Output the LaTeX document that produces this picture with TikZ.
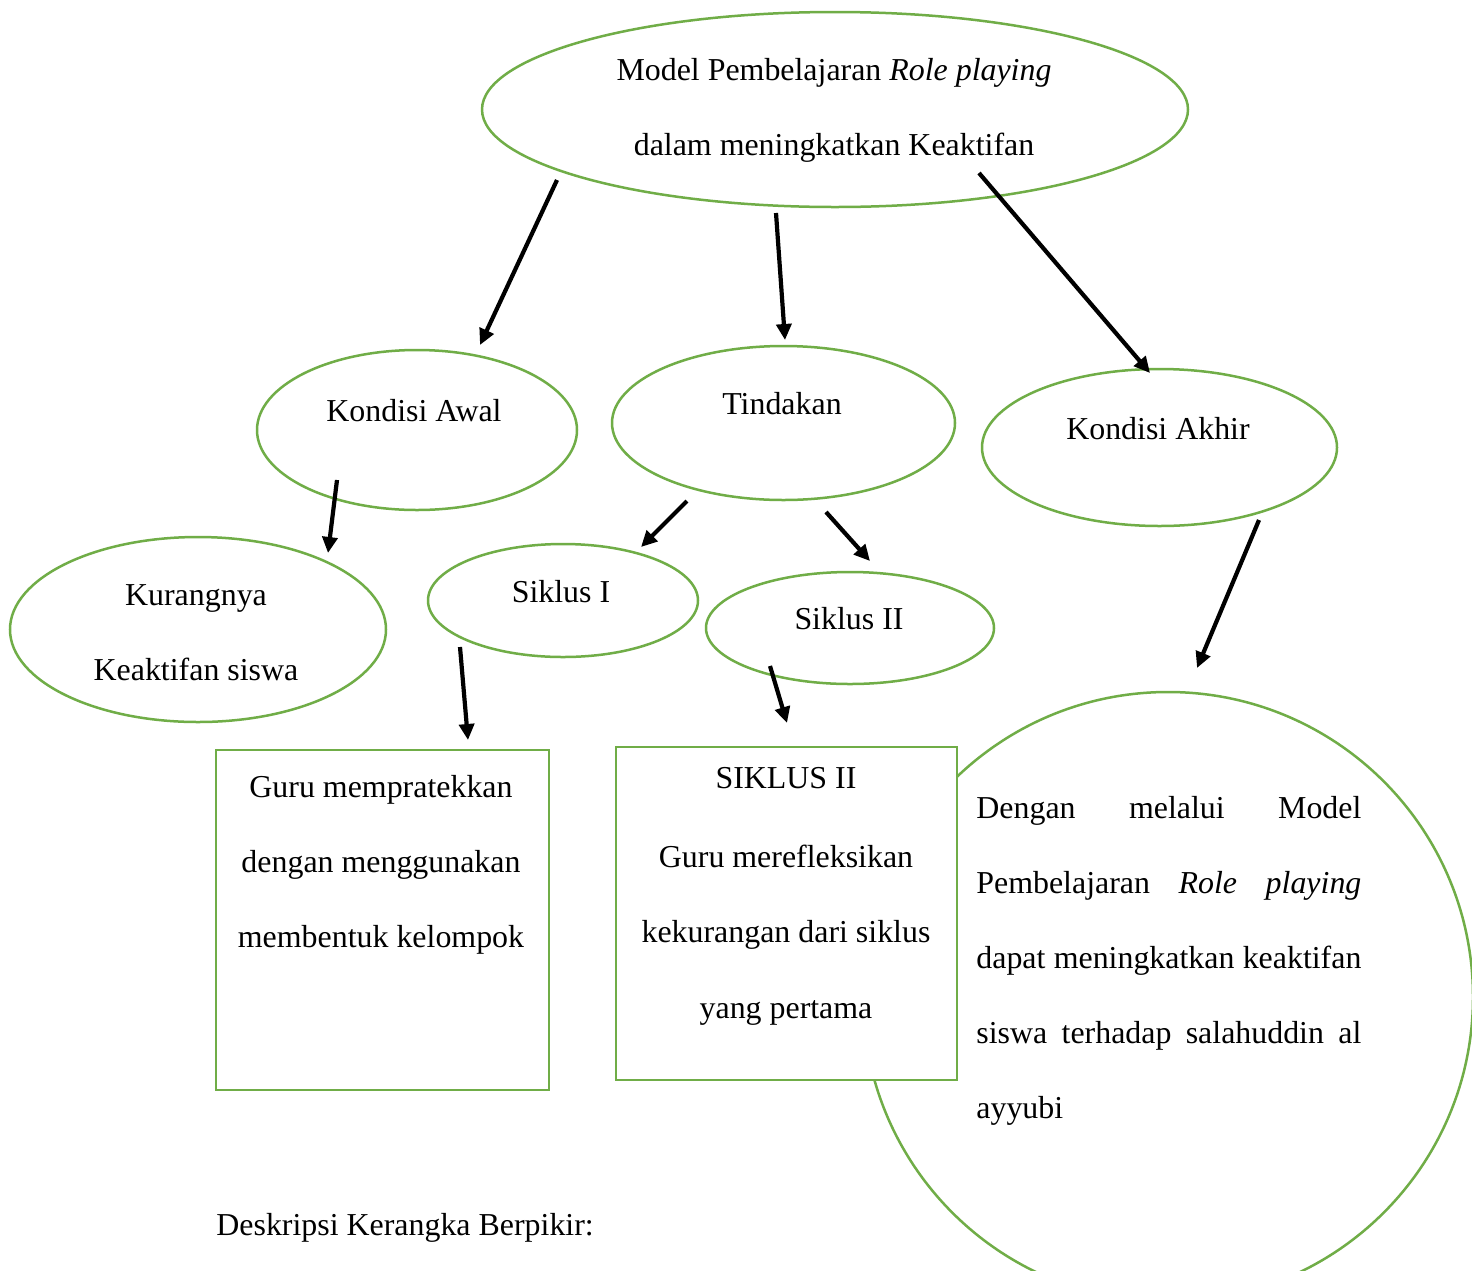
\documentclass[tikz,border=0pt]{standalone}
\usepackage{fontspec}
\setmainfont{Liberation Serif}
\usetikzlibrary{shapes.geometric,arrows.meta}
\definecolor{lgreen}{HTML}{70AD47}
\tikzset{
  oval/.style={ellipse,draw=lgreen,line width=1.25pt,fill=white,inner sep=0pt,outer sep=0pt},
  sqbox/.style={rectangle,draw=lgreen,line width=1.25pt,fill=white,inner sep=0pt,outer sep=0pt},
  lbl/.style={anchor=base,inner sep=0pt,font=\fontsize{15.95}{18}\selectfont},
  lblw/.style={anchor=base west,inner sep=0pt,font=\fontsize{15.95}{18}\selectfont},
  arr/.style={line width=2.1pt,-{Triangle[length=8pt,width=7.5pt]}}
}
\begin{document}
\begin{tikzpicture}[x=0.5pt,y=-0.5pt]
\clip (0,0) rectangle (1472,1270);
\fill[white] (0,0) rectangle (1472,1270);
% big circle first (behind box 2)
\node[oval,minimum width=305pt,minimum height=305pt] (akhirc) at (1168,997) {};
% ellipses
\node[oval,minimum width=353pt,minimum height=97.5pt] (top) at (835,109.5) {};
\node[oval,minimum width=160pt,minimum height=80pt] (awal) at (417,430) {};
\node[oval,minimum width=171.5pt,minimum height=77pt] (tind) at (783.5,423) {};
\node[oval,minimum width=177.5pt,minimum height=78.5pt] (akhir) at (1159.5,447.5) {};
\node[oval,minimum width=188pt,minimum height=92.5pt] (kurang) at (198,629.5) {};
\node[oval,minimum width=135pt,minimum height=56.5pt] (sik1) at (563,600.5) {};
\node[oval,minimum width=144pt,minimum height=56pt] (sik2) at (850,628) {};
% boxes
\node[sqbox,minimum width=166.5pt,minimum height=170pt] (box1) at (382.5,920) {};
\node[sqbox,minimum width=170.5pt,minimum height=166.5pt] (box2) at (786.5,913.5) {};
% labels
\node[lbl] (t1) at (834,80) {Model Pembelajaran \textit{Role playing}};
\node[lbl] (t2) at (834,155) {dalam meningkatkan Keaktifan};
\node[lbl] (t3) at (414,421) {Kondisi Awal};
\node[lbl] (t4) at (782,414) {Tindakan};
\node[lbl] (t5) at (1158,439) {Kondisi Akhir};
\node[lbl] (t6) at (196,605) {Kurangnya};
\node[lbl] (t7) at (196,680) {Keaktifan siswa};
\node[lbl] (t8) at (561,602) {Siklus I};
\node[lbl] (t9) at (849,629) {Siklus II};
\node[lbl] (b11) at (381,797) {Guru mempratekkan};
\node[lbl] (b12) at (381,872) {dengan menggunakan};
\node[lbl] (b13) at (381,947) {membentuk kelompok};
\node[lbl] (b21) at (786,788) {SIKLUS II};
\node[lbl] (b22) at (786,867) {Guru merefleksikan};
\node[lbl] (b23) at (786,942) {kekurangan dari siklus};
\node[lbl] (b24) at (786,1018) {yang pertama};
\node[lblw] (c1) at (976,818) {\makebox[192.5pt][s]{Dengan\hfill melalui\hfill Model}};
\node[lblw] (c2) at (976,893) {\makebox[192.5pt][s]{Pembelajaran\hfill \textit{Role}\hfill \textit{playing}}};
\node[lblw] (c3) at (976,968) {\makebox[192.5pt][s]{dapat\hfill meningkatkan\hfill keaktifan}};
\node[lblw] (c4) at (976,1043) {\makebox[192.5pt][s]{siswa\hfill terhadap\hfill salahuddin\hfill al}};
\node[lblw] (c5) at (976,1118) {ayyubi};
\node[lblw] (desk) at (216,1235) {Deskripsi Kerangka Berpikir:};
% arrow endpoints
\coordinate (a1s) at (557,180); \coordinate (a1e) at (480,345);
\coordinate (a2s) at (776,213); \coordinate (a2e) at (785,340);
\coordinate (a3s) at (979,173); \coordinate (a3e) at (1150,373);
\coordinate (a4s) at (337,480); \coordinate (a4e) at (328,553);
\coordinate (a5s) at (687,501); \coordinate (a5e) at (641,547);
\coordinate (a6s) at (826,512); \coordinate (a6e) at (870,561);
\coordinate (a7s) at (1259,520); \coordinate (a7e) at (1197,668);
\coordinate (a8s) at (460,647); \coordinate (a8e) at (468,740);
\coordinate (a9s) at (770,666); \coordinate (a9e) at (787,723);
\draw[arr] (a1s) -- (a1e);
\draw[arr] (a2s) -- (a2e);
\draw[arr] (a3s) -- (a3e);
\draw[arr] (a4s) -- (a4e);
\draw[arr] (a5s) -- (a5e);
\draw[arr] (a6s) -- (a6e);
\draw[arr] (a7s) -- (a7e);
\draw[arr] (a8s) -- (a8e);
\draw[arr] (a9s) -- (a9e);
\end{tikzpicture}
\end{document}
